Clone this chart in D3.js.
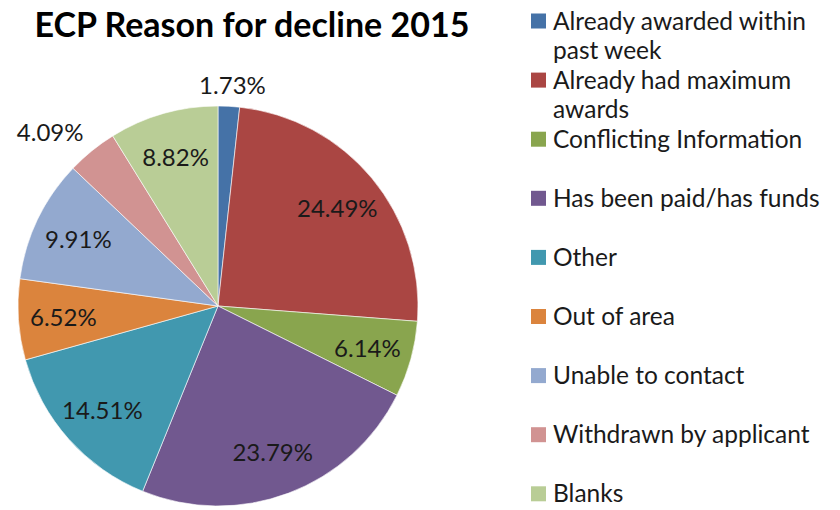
<!DOCTYPE html>
<html>
<head>
<meta charset="utf-8">
<script src="https://cdn.jsdelivr.net/npm/d3@7"></script>
<style>
  body { margin: 0; background: #fff; }
  svg text { font-family: Lato, "Open Sans", sans-serif; fill: #1a1a1a; }
</style>
</head>
<body>
<div class="container"></div>
<script>
// chart data (percent of declines)
var reasons = [
  "Already awarded within past week",
  "Already had maximum awards",
  "Conflicting Information",
  "Has been paid/has funds",
  "Other",
  "Out of area",
  "Unable to contact",
  "Withdrawn by applicant",
  "Blanks"
];
var legendLines = [
  ["Already awarded within", "past week"],
  ["Already had maximum", "awards"],
  ["Conflicting Information"],
  ["Has been paid/has funds"],
  ["Other"],
  ["Out of area"],
  ["Unable to contact"],
  ["Withdrawn by applicant"],
  ["Blanks"]
];
var percents = [1.73, 24.49, 6.14, 23.79, 14.51, 6.52, 9.91, 4.09, 8.82];
var colors = ["#4572A7", "#AA4643", "#89A54E", "#71588F", "#4198AF",
              "#DB843D", "#93A9CF", "#D19392", "#B9CD96"];

var svgWidth = 840;
var svgHeight = 510;

var svg = d3.select(".container")
  .append("svg")
  .attr("width", svgWidth)
  .attr("height", svgHeight);

// title
svg.append("text")
  .attr("x", 252)
  .attr("y", 37)
  .attr("text-anchor", "middle")
  .style("font-size", "34px")
  .style("font-weight", "bold")
  .style("fill", "#000")
  .text("ECP Reason for decline 2015");

// pie
var cx = 218, cy = 306, radius = 200;

var color = d3.scaleOrdinal().domain(reasons).range(colors);

var pie = d3.pie()
  .value(d => d.value)
  .sort(null);

var data = reasons.map((r, i) => ({ name: r, value: percents[i] }));
var arcs = pie(data);

var arc = d3.arc().innerRadius(0).outerRadius(radius);

var pieGroup = svg.append("g")
  .attr("transform", `translate(${cx}, ${cy})`);

pieGroup.selectAll("path")
  .data(arcs)
  .enter()
  .append("path")
  .attr("d", arc)
  .attr("fill", d => color(d.data.name))
  .attr("stroke", "#fff")
  .attr("stroke-width", 0.6);

// data labels: inside for big slices, outside for small ones
var labelArc = d3.arc().innerRadius(155).outerRadius(155);

pieGroup.selectAll("text.lbl")
  .data(arcs)
  .enter()
  .append("text")
  .attr("class", "lbl")
  .attr("text-anchor", "middle")
  .attr("dominant-baseline", "central")
  .style("font-size", "24px")
  .attr("transform", function(d) {
    var mid = (d.startAngle + d.endAngle) / 2;
    if (d.data.value >= 5) {
      return `translate(${labelArc.centroid(d)})`;
    }
    var s = Math.sin(mid), c = -Math.cos(mid);
    var rr = radius + 12;
    var hw = 36, hh = 10;
    var k = Math.max(-1, Math.min(1, s * 1.5));
    var x = rr * s + hw * k;
    var y = rr * c + hh * Math.sign(c);
    return `translate(${x}, ${y})`;
  })
  .text(d => d.data.value.toFixed(2) + "%");

// legend
var legend = svg.append("g")
  .attr("transform", "translate(531, 0)");

var step = 59.1;

var items = legend.selectAll("g")
  .data(reasons)
  .enter()
  .append("g")
  .attr("transform", (d, i) => `translate(0, ${21 + i * step})`);

items.append("rect")
  .attr("x", 0)
  .attr("y", -7.5)
  .attr("width", 15)
  .attr("height", 15)
  .attr("fill", d => color(d));

items.append("text")
  .attr("x", 22)
  .attr("y", 0)
  .style("font-size", "24.5px")
  .each(function(d, i) {
    var t = d3.select(this);
    legendLines[i].forEach(function(line, j) {
      t.append("tspan")
        .attr("x", 22)
        .attr("y", j * 29)
        .attr("dy", "0.35em")
        .text(line);
    });
  });
</script>
</body>
</html>
